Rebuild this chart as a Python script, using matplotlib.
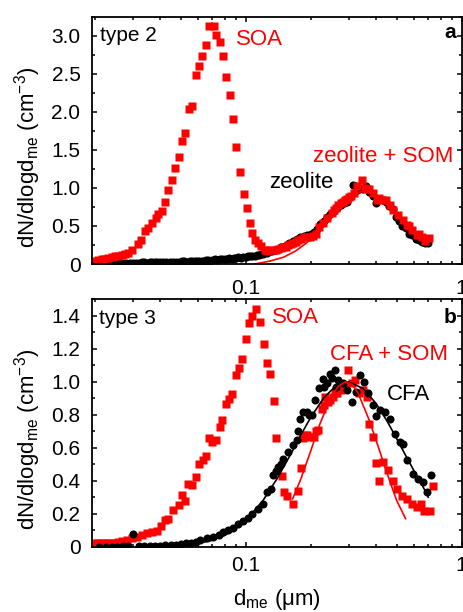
import matplotlib
matplotlib.use('Agg')
import matplotlib.pyplot as plt
import numpy as np
from matplotlib.ticker import FixedLocator, FuncFormatter, NullFormatter

plt.rcParams['font.family'] = ['Liberation Sans', 'DejaVu Sans']
plt.rcParams['mathtext.default'] = 'regular'

# ---- panel a (type 2) ----
soa_a_d = [0.0201, 0.0208, 0.0216, 0.0223, 0.0231, 0.0240, 0.0248, 0.0257, 0.0267, 0.0275,
           0.0284, 0.0299, 0.0316, 0.0328, 0.0342,
           0.0354, 0.0367, 0.0383, 0.0394, 0.0411, 0.0423, 0.0438, 0.0455, 0.0471, 0.0491,
           0.0509, 0.0524, 0.0546, 0.0566, 0.0591, 0.0608, 0.0630, 0.0657, 0.0676, 0.0711,
           0.0731, 0.0758, 0.0785, 0.0813, 0.0843, 0.0873, 0.0905, 0.0938, 0.0979, 0.1014,
           0.1043, 0.1073, 0.1104, 0.1140, 0.1173, 0.1224, 0.1255, 0.1286]
soa_a_v = [0.04, 0.05, 0.06, 0.07, 0.08, 0.09, 0.105, 0.11, 0.12, 0.135,
           0.15, 0.19, 0.26, 0.32, 0.44,
           0.47, 0.535, 0.60, 0.66, 0.70, 0.82, 0.97, 1.10, 1.26, 1.41,
           1.62, 1.72, 2.04, 2.07, 2.48, 2.60, 2.73, 2.88, 3.13, 3.13,
           3.01, 2.92, 2.74, 2.46, 2.22, 1.90, 1.54, 1.21, 0.92, 0.73,
           0.535, 0.41, 0.32, 0.27, 0.24, 0.18, 0.17, 0.18]

zsom_d = [0.1342, 0.1380, 0.1416, 0.1455, 0.1493, 0.1535, 0.1575, 0.1620, 0.1661, 0.1705,
          0.1752, 0.1810, 0.1862, 0.1920, 0.1985, 0.2050, 0.2116, 0.2192,
          0.2287, 0.2387, 0.2501, 0.2560, 0.2619, 0.2690, 0.2753, 0.2820, 0.2883, 0.2950,
          0.3017, 0.3090, 0.3170, 0.3283, 0.3443,
          0.3567, 0.3650, 0.3735, 0.3897, 0.4041, 0.4150, 0.4262, 0.4462, 0.4657, 0.4824,
          0.5087, 0.5332, 0.5566, 0.5700, 0.5869, 0.6189, 0.6350, 0.6529, 0.6800, 0.7079]
zsom_v = [0.19, 0.19, 0.20, 0.21, 0.22, 0.23, 0.25, 0.26, 0.27, 0.29,
          0.32, 0.33, 0.35, 0.36, 0.36, 0.37, 0.40, 0.48,
          0.535, 0.60, 0.67, 0.71, 0.73, 0.78, 0.80, 0.82, 0.84, 0.86,
          0.88, 0.90, 0.93, 1.02, 1.10,
          1.00, 0.98, 0.98, 0.93, 0.84, 0.87, 0.84, 0.84, 0.78, 0.71,
          0.645, 0.58, 0.51, 0.50, 0.45, 0.38, 0.39, 0.36, 0.30, 0.34]

zeo_d = [0.0235, 0.0245, 0.026, 0.027, 0.028, 0.029, 0.030, 0.031, 0.032, 0.033,
         0.034, 0.035, 0.036, 0.037, 0.038, 0.039, 0.040, 0.0415, 0.043, 0.0445,
         0.046, 0.0475, 0.049, 0.0505, 0.052, 0.0535, 0.055, 0.0565, 0.058, 0.0595,
         0.061, 0.0625, 0.064, 0.0655, 0.067, 0.0685, 0.070, 0.072, 0.074, 0.076,
         0.078, 0.080, 0.082, 0.084, 0.086, 0.088, 0.090, 0.0925, 0.095, 0.0975,
         0.100, 0.1025, 0.105, 0.1075, 0.110, 0.1125, 0.115, 0.1175, 0.120,
         0.126, 0.132, 0.138, 0.145, 0.152, 0.158, 0.165, 0.172, 0.179, 0.186,
         0.193, 0.200, 0.207, 0.214, 0.222, 0.230, 0.238, 0.247, 0.256, 0.265,
         0.275, 0.285, 0.295, 0.305, 0.315, 0.325, 0.336, 0.348, 0.361, 0.374,
         0.388, 0.402, 0.416, 0.431, 0.446, 0.462, 0.479, 0.496, 0.514, 0.532,
         0.551, 0.571, 0.591, 0.612, 0.634, 0.657, 0.680, 0.700]
zeo_v = [0.0, 0.005, 0.01, 0.01, 0.01, 0.012, 0.015, 0.01, 0.015, 0.02,
         0.02, 0.015, 0.02, 0.025, 0.02, 0.02, 0.025, 0.02, 0.025, 0.03,
         0.03, 0.025, 0.03, 0.035, 0.035, 0.03, 0.035, 0.04, 0.04, 0.035,
         0.04, 0.045, 0.045, 0.05, 0.05, 0.045, 0.05, 0.06, 0.055, 0.065,
         0.06, 0.07, 0.065, 0.075, 0.07, 0.08, 0.075, 0.09, 0.08, 0.095,
         0.09, 0.10, 0.10, 0.11, 0.11, 0.12, 0.12, 0.13, 0.13,
         0.15, 0.17, 0.18, 0.22, 0.24, 0.28, 0.30, 0.33, 0.36, 0.37,
         0.38, 0.40, 0.42, 0.46, 0.52, 0.57, 0.62, 0.66, 0.70, 0.74,
         0.78, 0.80, 0.82, 0.88, 1.04, 1.02, 1.00, 0.99, 1.03, 0.95,
         0.90, 0.80, 0.85, 0.84, 0.82, 0.76, 0.72, 0.62, 0.56, 0.50,
         0.47, 0.40, 0.38, 0.33, 0.31, 0.29, 0.28, 0.27]

# fitted lognormal curves
fit_zeo_d = [0.028, 0.05, 0.07, 0.09, 0.11, 0.13, 0.15, 0.17, 0.19, 0.21,
             0.24, 0.27, 0.30, 0.34, 0.37, 0.42, 0.48, 0.55, 0.62, 0.70]
fit_zeo_v = [0.0, 0.01, 0.03, 0.055, 0.085, 0.12, 0.17, 0.24, 0.32, 0.41,
             0.56, 0.72, 0.84, 0.94, 0.95, 0.86, 0.70, 0.50, 0.37, 0.28]
fit_zsom_d = [0.11, 0.12, 0.13, 0.15, 0.17, 0.19, 0.21, 0.24, 0.27, 0.30,
              0.34, 0.37, 0.42, 0.48, 0.55, 0.62, 0.70]
fit_zsom_v = [0.0, 0.02, 0.04, 0.09, 0.17, 0.27, 0.38, 0.55, 0.72, 0.85,
              0.95, 0.96, 0.88, 0.72, 0.53, 0.40, 0.31]

# ---- panel b (type 3) ----
soa_b_d = [0.0201, 0.0208, 0.0216, 0.0223, 0.0231, 0.0240, 0.0248, 0.0257, 0.0267, 0.0281,
           0.0297, 0.0313, 0.0330, 0.0348,
           0.0367, 0.0387, 0.0406, 0.0423, 0.0438, 0.0462, 0.0491, 0.0505, 0.0524, 0.0542,
           0.0566, 0.0587, 0.0608, 0.0634, 0.0657, 0.0676, 0.0700, 0.0731, 0.0758, 0.0779,
           0.0808, 0.0837, 0.0867, 0.0899, 0.0931, 0.0964, 0.1006, 0.1036, 0.1066, 0.1120,
           0.1161, 0.1211, 0.1255, 0.1300, 0.1348, 0.1386]
soa_b_v = [0.02, 0.02, 0.02, 0.02, 0.02, 0.022, 0.024, 0.028, 0.032, 0.04,
           0.053, 0.061, 0.069, 0.085,
           0.09, 0.097, 0.126, 0.162, 0.17, 0.223, 0.251, 0.312, 0.28, 0.38,
           0.377, 0.42, 0.50, 0.528, 0.552, 0.657, 0.637, 0.645, 0.726, 0.767,
           0.864, 0.897, 0.925, 1.039, 1.083, 1.14, 1.262, 1.355, 1.40, 1.444,
           1.363, 1.229, 1.116, 1.047, 0.884, 0.657]

csom_d = [0.1468, 0.1504, 0.1558, 0.1651, 0.1741, 0.1803, 0.1850, 0.1882, 0.1920, 0.1970,
          0.2071, 0.2120, 0.2168, 0.2248, 0.2300, 0.2329, 0.2400, 0.2456, 0.2544, 0.2600,
          0.2655, 0.2753, 0.2800, 0.2883, 0.2985, 0.3095, 0.3206,
          0.3357, 0.3503, 0.3633, 0.3735, 0.3873, 0.4011, 0.4155, 0.4335, 0.4572, 0.4824,
          0.5004, 0.5278, 0.5566, 0.5869, 0.6189, 0.6459, 0.6691, 0.7131, 0.7386]
csom_v = [0.43, 0.33, 0.31, 0.26, 0.34, 0.48, 0.66, 0.675, 0.68, 0.665,
          0.665, 0.70, 0.706, 0.838, 0.86, 0.909, 0.88, 0.889, 0.909, 0.93,
          0.929, 0.949, 0.96, 0.97, 1.071, 0.99, 1.01,
          0.929, 0.949, 0.909, 0.747, 0.665, 0.507, 0.397, 0.513, 0.463, 0.40,
          0.351, 0.31, 0.29, 0.26, 0.239, 0.26, 0.219, 0.219, 0.371]

cfa_d = [0.0210, 0.0225, 0.0240, 0.0255, 0.0270, 0.0285, 0.0302, 0.0320, 0.0340, 0.0360,
         0.0380, 0.0400, 0.0425, 0.0450, 0.0475, 0.0500, 0.0530, 0.0560, 0.0590, 0.0614,
         0.0660, 0.0708, 0.0750, 0.0788, 0.0830, 0.0876, 0.0920, 0.0975, 0.1020, 0.1066,
         0.1144, 0.1206, 0.1251, 0.1306, 0.1342, 0.1380, 0.1416, 0.1450, 0.1493, 0.1575,
         0.1651, 0.1722, 0.1750,
         0.1784, 0.1848, 0.1929, 0.1970, 0.2021, 0.2094, 0.2192, 0.2273, 0.2300, 0.2387,
         0.2450, 0.2501, 0.2591,
         0.2620, 0.2684, 0.2813, 0.2936, 0.3095, 0.3241, 0.3382, 0.3529, 0.3695, 0.3873, 0.4011,
         0.4186, 0.4415, 0.4657, 0.4912, 0.5181, 0.5365, 0.5601, 0.5970, 0.6297, 0.6598,
         0.6887, 0.7186]
cfa_v = [0.0, 0.0, 0.0, 0.0, 0.002, 0.003, 0.077, 0.004, 0.005, 0.005,
         0.006, 0.007, 0.008, 0.01, 0.012, 0.015, 0.02, 0.025, 0.03, 0.04,
         0.05, 0.057, 0.07, 0.087, 0.10, 0.114, 0.14, 0.158, 0.175, 0.199,
         0.229, 0.26, 0.33, 0.351, 0.432, 0.46, 0.483, 0.50, 0.534, 0.574,
         0.615, 0.645, 0.70,
         0.777, 0.817, 0.817, 0.80, 0.797, 0.889, 0.96, 1.015, 0.97, 0.99,
         1.05, 1.02, 1.071,
         0.97, 1.01, 0.994, 0.949, 0.878, 0.939, 1.04, 1.0, 0.929, 0.858, 0.791,
         0.828, 0.817, 0.777, 0.686, 0.635, 0.625, 0.523, 0.442, 0.412, 0.391,
         0.33, 0.432]

fit_cfa_d = [0.035, 0.04, 0.05, 0.06, 0.07, 0.08, 0.09, 0.10, 0.12, 0.14,
             0.16, 0.18, 0.20, 0.23, 0.26, 0.30, 0.35, 0.40, 0.45, 0.50,
             0.55, 0.60, 0.65, 0.70]
fit_cfa_v = [0.0, 0.002, 0.007, 0.019, 0.039, 0.069, 0.109, 0.158, 0.278, 0.414,
             0.55, 0.677, 0.784, 0.903, 0.972, 1.0, 0.959, 0.871, 0.765, 0.656,
             0.554, 0.463, 0.385, 0.30]
fit_csom_d = [0.165, 0.18, 0.20, 0.22, 0.25, 0.27, 0.29, 0.31, 0.33, 0.37,
              0.41, 0.45, 0.50, 0.55]
fit_csom_v = [0.29, 0.41, 0.58, 0.74, 0.917, 0.975, 1.0, 0.985, 0.937, 0.78,
              0.61, 0.45, 0.28, 0.17]

red = '#ff0000'
fs = 15
sq = 6.3
dot = 5.8

fig = plt.figure(figsize=(4.64, 6.12), dpi=100)
ax1 = fig.add_axes([0.1989, 0.5686, 0.7961, 0.4041])
ax2 = fig.add_axes([0.1989, 0.1067, 0.7961, 0.4042])


def style_axes(ax, ymax, ystep, xpad):
    ax.set_xscale('log')
    ax.set_xlim(0.0195, 1)
    ax.set_ylim(0, ymax)
    ax.xaxis.set_major_locator(FixedLocator([0.1, 1]))
    ax.xaxis.set_major_formatter(FuncFormatter(lambda v, p: '0.1' if v < 0.5 else '1'))
    minors = [k * 0.01 for k in range(2, 10)] + [k * 0.1 for k in range(2, 10)]
    ax.xaxis.set_minor_locator(FixedLocator(minors))
    ax.xaxis.set_minor_formatter(NullFormatter())
    majors = list(np.arange(0, ymax + 1e-9, ystep))
    ax.yaxis.set_major_locator(FixedLocator(majors))
    ax.yaxis.set_minor_locator(FixedLocator([m + ystep / 2 for m in majors]))
    ax.yaxis.set_major_formatter(FuncFormatter(lambda v, p: '0' if abs(v) < 1e-9 else f'{v:.1f}'))
    ax.tick_params(which='both', direction='in', top=True, right=True, labelsize=fs, width=1.1)
    ax.tick_params(which='major', length=3.5)
    ax.tick_params(which='minor', length=2)
    ax.tick_params(axis='y', which='major', pad=8.5)
    ax.tick_params(axis='x', which='major', pad=xpad)
    for s in ax.spines.values():
        s.set_linewidth(1.3)


style_axes(ax1, 3.25, 0.5, 11)
style_axes(ax2, 1.5, 0.2, 7)

# panel a
ax1.plot(zeo_d, zeo_v, 'o', color='black', ms=dot, mec='none')
ax1.plot(fit_zeo_d, fit_zeo_v, '-', color='black', lw=1.2)
ax1.plot(fit_zsom_d, fit_zsom_v, '-', color=red, lw=1.2)
ax1.plot(soa_a_d, soa_a_v, 's', color=red, ms=sq, mec='none')
ax1.plot(zsom_d, zsom_v, 's', color=red, ms=sq, mec='none')

ax1.text(0.021, 0.926, 'type 2', transform=ax1.transAxes, fontsize=fs, va='center', ha='left')
ax1.text(0.985, 0.938, 'a', transform=ax1.transAxes, fontsize=fs, fontweight='bold', va='center', ha='right')
ax1.text(0.0902, 2.95, 'SOA', color=red, fontsize=16, va='center', ha='left')
ax1.text(0.2049, 1.41, 'zeolite + SOM', color=red, fontsize=16, va='center', ha='left')
ax1.text(0.1282, 1.07, 'zeolite', color='black', fontsize=16, va='center', ha='left')

# panel b
ax2.plot(soa_b_d, soa_b_v, 's', color=red, ms=sq, mec='none')
ax2.plot(csom_d, csom_v, 's', color=red, ms=sq, mec='none')
ax2.plot(cfa_d, cfa_v, 'o', color='black', ms=dot, mec='none')
ax2.plot(fit_cfa_d, fit_cfa_v, '-', color='black', lw=1.2)
ax2.plot(fit_csom_d, fit_csom_v, '-', color=red, lw=1.2)

ax2.text(0.018, 0.924, 'type 3', transform=ax2.transAxes, fontsize=fs, va='center', ha='left')
ax2.text(0.985, 0.928, 'b', transform=ax2.transAxes, fontsize=fs, fontweight='bold', va='center', ha='right')
ax2.text(0.1324, 1.39, 'SOA', color=red, fontsize=16, va='center', ha='left')
ax2.text(0.2456, 1.163, 'CFA + SOM', color=red, fontsize=16, va='center', ha='left')
ax2.text(0.451, 0.925, 'CFA', color='black', fontsize=16, va='center', ha='left')

ylab = 'dN/dlogd$_{me}$ (cm$^{-3}$)'
fig.text(0.06, 0.7435, ylab, rotation=90, fontsize=16, ha='center', va='center')
fig.text(0.06, 0.2827, ylab, rotation=90, fontsize=16, ha='center', va='center')
fig.text(0.597, 0.0114, 'd$_{me}$ (\u03bcm)', fontsize=16, ha='center', va='baseline')

fig.savefig('out.png', dpi=100)
